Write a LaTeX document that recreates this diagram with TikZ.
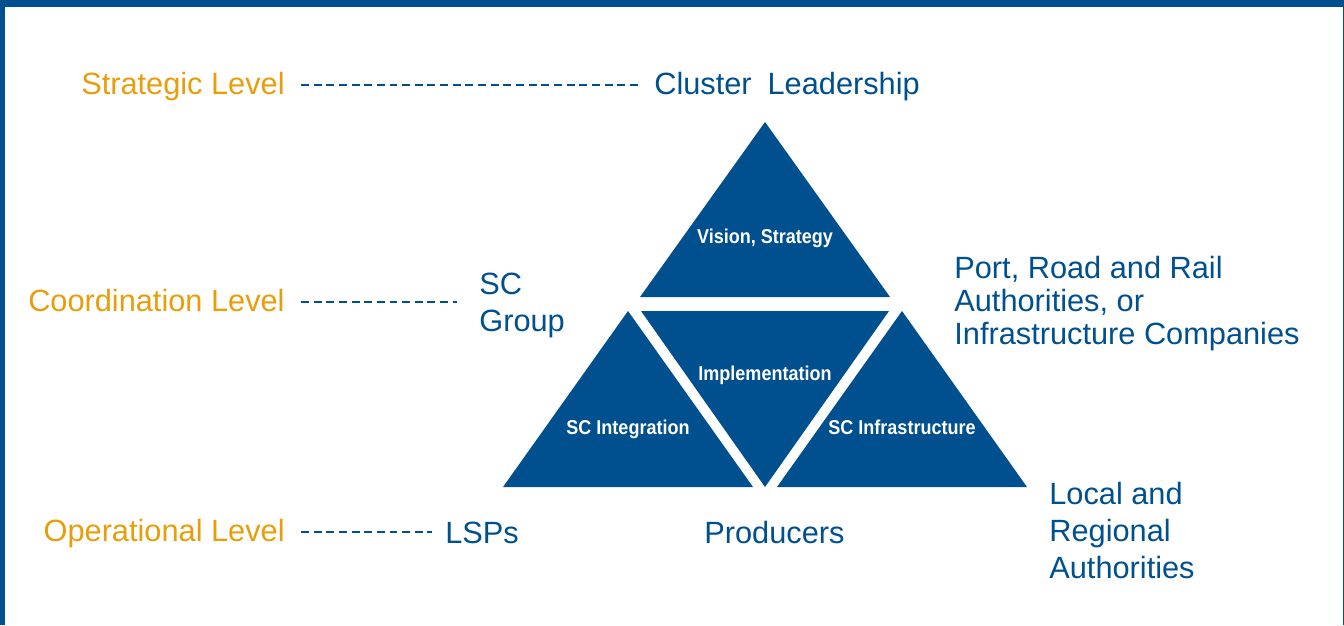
\documentclass[tikz,border=0pt]{standalone}
\usepackage{fontspec}
\setmainfont{Liberation Sans}
\newfontfamily\narrowfont[FakeStretch=0.9]{Liberation Sans}
\usepackage{tikz}
\definecolor{clusterblue}{HTML}{00508F}
\definecolor{levelorange}{HTML}{E89D0A}

\begin{document}
\begin{tikzpicture}[
  x=0.02cm, y=-0.02cm,
  every node/.style={inner sep=0pt},
  levellabel/.style={text=levelorange, font=\fontsize{17.5pt}{18.4pt}\selectfont, text height=12.5pt, text depth=2.3pt, anchor=base east},
  actor/.style={text=clusterblue, font=\fontsize{17.5pt}{18.8pt}\selectfont, align=left, anchor=north west},
  actorline/.style={text=clusterblue, font=\fontsize{17.5pt}{18.4pt}\selectfont, text height=12.5pt, text depth=2.3pt, anchor=base west},
  tri/.style={fill=clusterblue},
  tritext/.style={text=white, font=\narrowfont\bfseries\fontsize{11.4pt}{13pt}\selectfont, anchor=base},
  levelline/.style={draw=clusterblue, line width=1.1pt, dash pattern=on 4.5pt off 2.7pt}
]
\useasboundingbox (0,0) rectangle (1344,625);
\fill[clusterblue] (0,0) rectangle (1344,7);
\fill[clusterblue] (0,0) rectangle (5,625);
\fill[clusterblue] (1342.5,0) rectangle (1344,625);

\fill[tri] (765,122) -- (890,297) -- (640,297) -- cycle;
\fill[tri] (641,311) -- (889,311) -- (765,487) -- cycle;
\fill[tri] (628,311) -- (753,487) -- (503,487) -- cycle;
\fill[tri] (902,311) -- (1027,487) -- (777,487) -- cycle;

\node[tritext] (vis) at (765,243) {Vision, Strategy};
\node[tritext] (impl) at (765,380) {Implementation};
\node[tritext] (integ) at (628,434) {SC Integration};
\node[tritext] (infra) at (902,434) {SC Infrastructure};

\node[levellabel] (strat) at (285,94) {Strategic Level};
\node[levellabel] (coord) at (285,311) {Coordination Level};
\node[levellabel] (oper) at (285,541) {Operational Level};

\node[actorline] (lead) at (654,94) {Cluster\hspace{0.24em} Leadership};
\node[actor, font=\fontsize{17.5pt}{21pt}\selectfont] (grp) at (479,273) {SC\\Group};
\node[actorline] (lsp) at (445,543) {LSPs};
\node[actorline] (prod) at (704,543) {Producers};
\node[actor] (port) at (954,256) {Port, Road and Rail\\Authorities, or\\Infrastructure Companies};
\node[actor, font=\fontsize{17.5pt}{21pt}\selectfont] (local) at (1049,482) {Local and\\Regional\\Authorities};

\draw[levelline, shorten <=9.1pt, shorten >=8pt] (strat.east) -- (strat.east -| lead.west);
\draw[levelline, shorten <=9.1pt, shorten >=12.5pt] (coord.east) -- (coord.east -| grp.west);
\draw[levelline, shorten <=9.1pt, shorten >=7.4pt] (oper.east) -- (oper.east -| lsp.west);
\end{tikzpicture}
\end{document}
